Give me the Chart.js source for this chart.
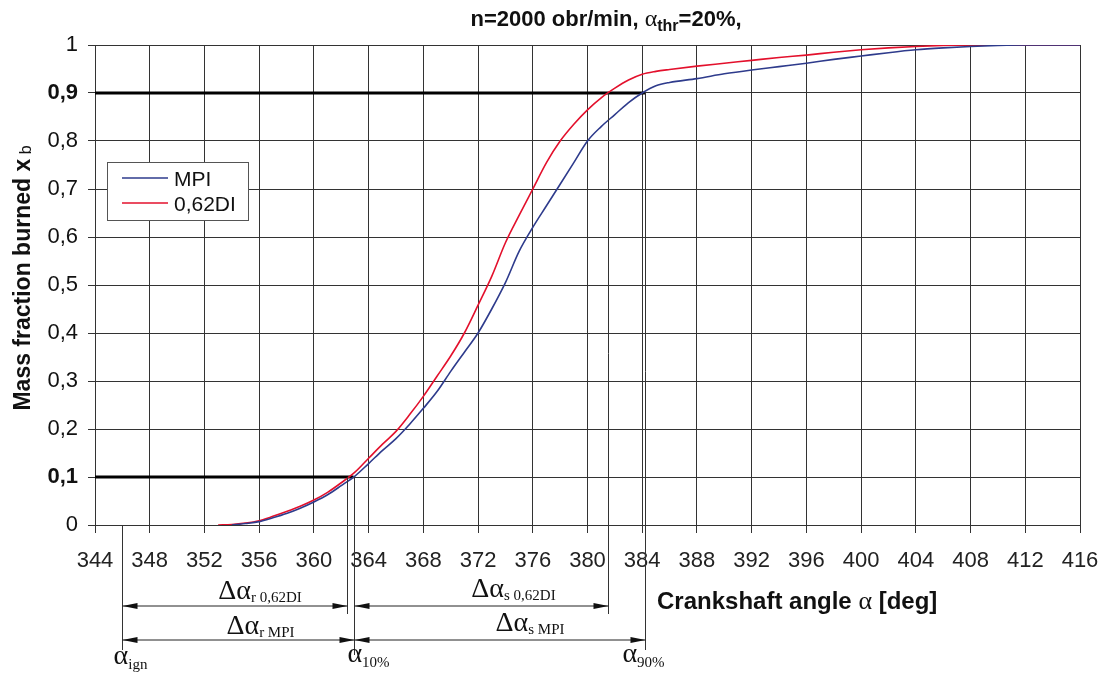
<!DOCTYPE html>
<html>
<head>
<meta charset="utf-8">
<script src="https://cdn.jsdelivr.net/npm/chart.js@4"></script>
<style>
  html, body { margin: 0; padding: 0; background: #fff; }
  canvas { display: block; }
</style>
</head>
<body>
<canvas id="chart" width="1103" height="674"></canvas>
<script>
// Crankshaft angle [deg]
const angles = [353, 354, 355, 356, 357, 358, 359, 360, 361, 362, 363, 364, 365, 366, 367, 368, 369, 370,
  371, 372, 373, 374, 375, 376, 377, 378, 379, 380, 381, 382, 383, 384, 385, 386, 388, 390, 392, 394,
  396, 398, 400, 402, 404, 406, 408, 410, 412, 414, 416];

// Mass fraction burned
const mpiValues = [null, 0, 0.003, 0.007, 0.015, 0.024, 0.035, 0.048, 0.063, 0.082, 0.102, 0.128, 0.155, 0.18,
  0.21, 0.243, 0.278, 0.32, 0.36, 0.40, 0.45, 0.505, 0.57, 0.62, 0.665, 0.71, 0.755, 0.80, 0.83, 0.855,
  0.88, 0.90, 0.915, 0.922, 0.93, 0.94, 0.948, 0.955, 0.962, 0.97, 0.977, 0.984, 0.99, 0.994, 0.997,
  0.999, 1.0, 1.0, 1.0];
const diValues = [0, 0.001, 0.004, 0.009, 0.018, 0.028, 0.039, 0.052, 0.068, 0.088, 0.11, 0.139, 0.168, 0.195,
  0.23, 0.268, 0.31, 0.352, 0.4, 0.458, 0.518, 0.588, 0.645, 0.70, 0.755, 0.8, 0.835, 0.865, 0.89, 0.91,
  0.927, 0.939, 0.945, 0.949, 0.956, 0.962, 0.968, 0.974, 0.979, 0.985, 0.99, 0.994, 0.997, 0.999, 1.0,
  1.0, 1.0, 1.0, 1.0];

const seriesNames = ["MPI", "0,62DI"];
const seriesColors = ["#2e3b8c", "#e3102c"];

// Marked angles
const alphaIgn = 346;
const alpha10Di = 362.4;
const alpha10Mpi = 362.9;
const alpha90Di = 381.5;
const alpha90Mpi = 384.2;

const SANS = "'Liberation Sans', Arial, sans-serif";
const SERIF = "'Liberation Serif', 'Times New Roman', serif";

const toPoints = (vals) => angles.map((a, i) => ({ x: a, y: vals[i] }));

const fmtY = (v) => {
  if (Math.abs(v) < 1e-6) return "0";
  if (Math.abs(v - 1) < 1e-6) return "1";
  return v.toFixed(1).replace(".", ",");
};
const isBoldTick = (v) => Math.abs(v - 0.1) < 1e-6 || Math.abs(v - 0.9) < 1e-6;

// draw a run of text pieces: [text, font, dy]
const drawRun = (ctx, parts, x, y, align) => {
  let total = 0;
  parts.forEach((p) => {
    ctx.font = p[1];
    total += ctx.measureText(p[0]).width;
  });
  let cx = align === "center" ? x - total / 2 : x;
  ctx.textAlign = "left";
  parts.forEach((p) => {
    ctx.font = p[1];
    ctx.fillText(p[0], cx, y + (p[2] || 0));
    cx += ctx.measureText(p[0]).width;
  });
};

const arrowHead = (ctx, x, y, dir) => {
  ctx.beginPath();
  ctx.moveTo(x, y);
  ctx.lineTo(x - dir * 15, y - 3);
  ctx.lineTo(x - dir * 15, y + 3);
  ctx.closePath();
  ctx.fill();
};

const dimArrow = (ctx, x1, x2, y) => {
  ctx.beginPath();
  ctx.moveTo(x1, y);
  ctx.lineTo(x2, y);
  ctx.stroke();
  arrowHead(ctx, x1, y, -1);
  arrowHead(ctx, x2, y, 1);
};

const thresholdLines = {
  id: "thresholdLines",
  beforeDatasetsDraw(chart) {
    const { ctx, scales: { x, y } } = chart;
    ctx.save();
    ctx.strokeStyle = "#000";
    ctx.lineWidth = 3;
    [[0.1, alpha10Mpi], [0.9, alpha90Mpi]].forEach(([v, a]) => {
      ctx.beginPath();
      ctx.moveTo(x.getPixelForValue(344), y.getPixelForValue(v));
      ctx.lineTo(x.getPixelForValue(a), y.getPixelForValue(v));
      ctx.stroke();
    });
    ctx.restore();
  },
};

const annotations = {
  id: "annotations",
  afterDraw(chart) {
    const { ctx, scales: { x, y } } = chart;
    ctx.save();
    ctx.fillStyle = "#111";
    ctx.textBaseline = "alphabetic";

    // title
    drawRun(ctx, [
      ["n=2000 obr/min, ", "bold 22px " + SANS],
      ["\u03b1", "24px " + SERIF],
      ["thr", "bold 16px " + SANS, 5],
      ["=20%,", "bold 22px " + SANS],
    ], 606, 26, "center");

    // y axis title
    ctx.save();
    ctx.translate(30, 278);
    ctx.rotate(-Math.PI / 2);
    drawRun(ctx, [
      ["Mass fraction burned x", "bold 23px " + SANS],
      [" b", "16px " + SANS, 1],
    ], 0, 0, "center");
    ctx.restore();

    // x axis title
    drawRun(ctx, [
      ["Crankshaft angle ", "bold 24px " + SANS],
      ["\u03b1", "26px " + SERIF],
      [" [deg]", "bold 24px " + SANS],
    ], 657, 609, "left");

    // legend
    ctx.fillStyle = "#fff";
    ctx.fillRect(107, 162, 141, 58);
    ctx.strokeStyle = "#555";
    ctx.lineWidth = 1;
    ctx.strokeRect(107.5, 162.5, 141, 58);
    chart.data.datasets.forEach((ds, i) => {
      const ly = 178 + i * 25;
      ctx.strokeStyle = ds.borderColor;
      ctx.lineWidth = 1.6;
      ctx.beginPath();
      ctx.moveTo(122, ly);
      ctx.lineTo(168, ly);
      ctx.stroke();
      ctx.fillStyle = "#111";
      ctx.font = "21px " + SANS;
      ctx.textAlign = "left";
      ctx.fillText(ds.label, 174, ly + 8);
    });

    // vertical marker lines
    const px = (a) => Math.round(x.getPixelForValue(a)) + 0.5;
    ctx.strokeStyle = "#333";
    ctx.lineWidth = 1;
    const vline = (a, v, yEnd) => {
      ctx.beginPath();
      ctx.moveTo(px(a), y.getPixelForValue(v));
      ctx.lineTo(px(a), yEnd);
      ctx.stroke();
    };
    vline(alphaIgn, 0, 650);
    vline(alpha10Di, 0.1, 614);
    vline(alpha10Mpi, 0.1, 655);
    vline(alpha90Di, 0.9, 614);
    vline(alpha90Mpi, 0.9, 650);

    // dimension arrows
    ctx.fillStyle = "#111";
    ctx.strokeStyle = "#222";
    dimArrow(ctx, px(alphaIgn), px(alpha10Di), 606);
    dimArrow(ctx, px(alpha10Mpi), px(alpha90Di), 606);
    dimArrow(ctx, px(alphaIgn), px(alpha10Mpi), 640);
    dimArrow(ctx, px(alpha10Mpi), px(alpha90Mpi), 640);

    // labels
    const big = "28px " + SERIF;
    const sub = "15px " + SERIF;
    drawRun(ctx, [["\u0394\u03b1", big], ["r", sub, 3], [" 0,62DI", sub, 3]],
      (px(alphaIgn) + px(alpha10Di)) / 2 + 25, 599, "center");
    drawRun(ctx, [["\u0394\u03b1", big], ["r", sub, 3], [" MPI", sub, 3]],
      (px(alphaIgn) + px(alpha10Mpi)) / 2 + 22, 634, "center");
    drawRun(ctx, [["\u0394\u03b1", big], ["s", sub, 3], [" 0,62DI", sub, 3]],
      (px(alpha10Mpi) + px(alpha90Di)) / 2 + 32, 597, "center");
    drawRun(ctx, [["\u0394\u03b1", big], ["s", sub, 3], [" MPI", sub, 3]],
      (px(alpha10Mpi) + px(alpha90Mpi)) / 2 + 30, 631, "center");

    drawRun(ctx, [["\u03b1", big], ["ign", sub, 5]], px(alphaIgn) + 8, 664, "center");
    drawRun(ctx, [["\u03b1", big], ["10%", sub, 5]], px(alpha10Mpi) + 14, 662, "center");
    drawRun(ctx, [["\u03b1", big], ["90%", sub, 5]], px(alpha90Mpi) - 2, 662, "center");

    ctx.restore();
  },
};

new Chart(document.getElementById("chart"), {
  type: "line",
  data: {
    datasets: [
      {
        label: seriesNames[0],
        data: toPoints(mpiValues),
        borderColor: seriesColors[0],
        backgroundColor: seriesColors[0],
        borderWidth: 1.6,
        pointRadius: 0,
        cubicInterpolationMode: "monotone",
        spanGaps: true,
      },
      {
        label: seriesNames[1],
        data: toPoints(diValues),
        borderColor: seriesColors[1],
        backgroundColor: seriesColors[1],
        borderWidth: 1.6,
        pointRadius: 0,
        cubicInterpolationMode: "monotone",
      },
    ],
  },
  options: {
    responsive: false,
    animation: false,
    devicePixelRatio: 1,
    layout: { padding: { top: 45, right: 23, left: 0, bottom: 0 } },
    plugins: {
      legend: { display: false },
      tooltip: { enabled: false },
    },
    scales: {
      x: {
        type: "linear",
        min: 344,
        max: 416,
        ticks: {
          stepSize: 4,
          color: "#222",
          padding: 15,
          font: { family: SANS, size: 22 },
        },
        grid: { color: "#333", lineWidth: 1, tickLength: 8 },
        border: { color: "#333" },
        afterFit: (scale) => {
          scale.height = 149;
          scale.paddingLeft = 0;
          scale.paddingRight = 0;
        },
      },
      y: {
        min: 0,
        max: 1,
        ticks: {
          stepSize: 0.1,
          color: "#111",
          padding: 10,
          callback: (v) => fmtY(v),
          font: (ctx) => ({
            family: SANS,
            size: 22,
            weight: ctx.tick && isBoldTick(ctx.tick.value) ? "bold" : "normal",
          }),
        },
        grid: { color: "#333", lineWidth: 1, tickLength: 7 },
        border: { color: "#333" },
        afterFit: (scale) => {
          scale.width = 95;
          scale.paddingTop = 0;
          scale.paddingBottom = 0;
        },
      },
    },
  },
  plugins: [thresholdLines, annotations],
});
</script>
</body>
</html>
